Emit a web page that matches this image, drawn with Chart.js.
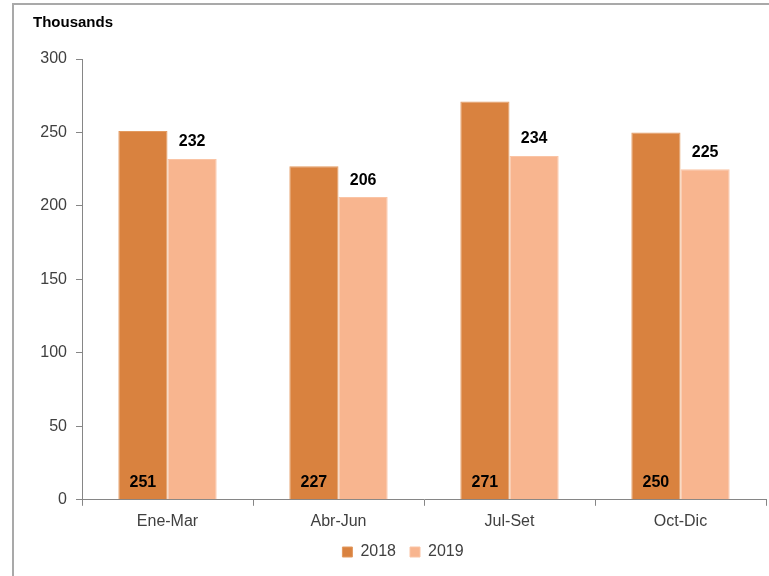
<!DOCTYPE html>
<html>
<head>
<meta charset="utf-8">
<script src="https://cdn.jsdelivr.net/npm/chart.js@4.4.0/dist/chart.umd.min.js"></script>
<style>
  body { margin: 0; background: #fff; }
  /* marco gris del grafico (solo lados izquierdo y superior visibles) */
  .marco {
    position: absolute; left: 12px; top: 3px;
    width: 800px; height: 600px;
    border-left: 2px solid #a9a9a9;
    border-top: 2px solid #a9a9a9;
  }
  #grafico { position: absolute; left: 0; top: 0; }
</style>
</head>
<body>
<div class="marco"></div>
<canvas id="grafico" width="769" height="576"></canvas>
<script>
  // datos
  const trimestres = ['Ene-Mar', 'Abr-Jun', 'Jul-Set', 'Oct-Dic'];
  const valores2018 = [251, 227, 271, 250];
  const valores2019 = [232, 206, 234, 225];
  const ticksY = [0, 50, 100, 150, 200, 250, 300];

  const fuente = "'Liberation Sans', Arial, sans-serif";
  const gris = '#868686';
  const texto = '#404040';

  // etiquetas de valores y titulo "Thousands"
  const etiquetas = {
    id: 'etiquetas',
    afterDatasetsDraw(chart) {
      const ctx = chart.ctx;
      ctx.save();
      ctx.fillStyle = '#000';
      ctx.font = 'bold 16px ' + fuente;
      ctx.textAlign = 'center';
      ctx.textBaseline = 'middle';
      chart.data.datasets.forEach((ds, i) => {
        const meta = chart.getDatasetMeta(i);
        meta.data.forEach((bar, j) => {
          if (i === 0) {
            ctx.fillText(ds.data[j], bar.x, bar.base - 17);
          } else {
            ctx.fillText(ds.data[j], bar.x, bar.y - 17);
          }
        });
      });
      ctx.font = 'bold 15px ' + fuente;
      ctx.textAlign = 'left';
      ctx.fillText('Thousands', 33, 23);
      ctx.restore();
    }
  };

  const ctx = document.getElementById('grafico').getContext('2d');
  const grafico = new Chart(ctx, {
    type: 'bar',
    data: {
      labels: trimestres,
      datasets: [
        {
          label: '2018',
          data: valores2018,
          backgroundColor: '#d9823f',
          borderColor: '#e39a60',
          borderWidth: 1,
          barPercentage: 1,
          categoryPercentage: 0.575
        },
        {
          label: '2019',
          data: valores2019,
          backgroundColor: '#f8b58f',
          borderColor: '#fac4a5',
          borderWidth: 1,
          barPercentage: 1,
          categoryPercentage: 0.575
        }
      ]
    },
    options: {
      responsive: false,
      animation: false,
      layout: { padding: { left: 40, right: 3, top: 59, bottom: 6 } },
      plugins: {
        tooltip: { enabled: false },
        legend: {
          position: 'bottom',
          labels: {
            boxWidth: 10,
            boxHeight: 10,
            padding: 14,
            color: texto,
            font: { family: fuente, size: 16 }
          }
        }
      },
      scales: {
        x: {
          afterFit: axis => { axis.height = axis.height - 7; },
          grid: { display: true, drawOnChartArea: false, tickLength: 6, color: gris },
          border: { color: gris },
          ticks: { color: texto, padding: 6, font: { family: fuente, size: 16 } }
        },
        y: {
          min: 0,
          max: 300,
          afterFit: axis => { axis.width = 42; },
          afterBuildTicks: axis => { axis.ticks = ticksY.map(v => ({ value: v })); },
          grid: { display: true, drawOnChartArea: false, tickLength: 6, color: gris },
          border: { color: gris },
          ticks: { color: texto, padding: 9, font: { family: fuente, size: 16 } }
        }
      }
    },
    plugins: [etiquetas]
  });
</script>
</body>
</html>
